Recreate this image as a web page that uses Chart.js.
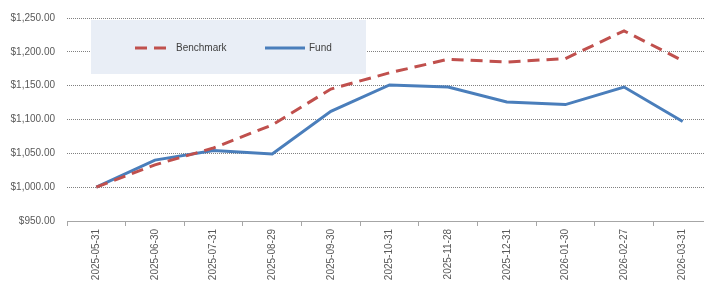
<!DOCTYPE html>
<html lang="en">
<head>
    <meta charset="UTF-8">
    <title>Fund vs Benchmark</title>
    <script src="https://cdn.jsdelivr.net/npm/chart.js"></script>
    <style>
        html, body { margin: 0; padding: 0; background: #fff; overflow: hidden; }
        .chart-wrapper { position: relative; width: 716px; height: 281px; }
    </style>
</head>
<body>
    <div class="chart-wrapper">
        <canvas id="growthChart"></canvas>
    </div>

    <script>
        const dates = ['2025-05-31', '2025-06-30', '2025-07-31', '2025-08-29', '2025-09-30', '2025-10-31',
                       '2025-11-28', '2025-12-31', '2026-01-30', '2026-02-27', '2026-03-31'];
        const benchmarkValues = [1000, 1033, 1058, 1092, 1145, 1169, 1189, 1185, 1190, 1231, 1187];
        const fundValues = [1000, 1040, 1054, 1049, 1112, 1151, 1148, 1126, 1122, 1148, 1097];

        const FONT = "'Liberation Sans', Arial, sans-serif";

        // legend drawn inside the plot on a shaded box
        const boxLegend = {
            id: 'boxLegend',
            beforeDatasetsDraw(chart) {
                const ctx = chart.ctx;
                ctx.save();
                ctx.fillStyle = '#e9eef6';
                ctx.fillRect(91, 20, 275, 54);

                const slots = [{ x: 135, w: 37 }, { x: 265, w: 40 }];
                chart.data.datasets.forEach((ds, i) => {
                    const s = slots[i];
                    ctx.strokeStyle = ds.borderColor;
                    ctx.lineWidth = ds.borderWidth;
                    ctx.setLineDash(ds.borderDash || []);
                    ctx.beginPath();
                    ctx.moveTo(s.x, 48);
                    ctx.lineTo(s.x + s.w, 48);
                    ctx.stroke();
                    ctx.setLineDash([]);
                    ctx.fillStyle = '#404040';
                    ctx.font = '10px ' + FONT;
                    ctx.textBaseline = 'middle';
                    ctx.fillText(ds.label, s.x + s.w + 4, 48);
                });
                ctx.restore();
            }
        };

        const ctx = document.getElementById('growthChart').getContext('2d');
        new Chart(ctx, {
            type: 'line',
            data: {
                labels: dates,
                datasets: [
                    {
                        label: 'Benchmark',
                        data: benchmarkValues,
                        borderColor: '#c0504d',
                        borderWidth: 3,
                        borderDash: [12, 7],
                        pointRadius: 0,
                        tension: 0,
                        fill: false
                    },
                    {
                        label: 'Fund',
                        data: fundValues,
                        borderColor: '#4a7ebb',
                        borderWidth: 3,
                        pointRadius: 0,
                        tension: 0,
                        fill: false
                    }
                ]
            },
            options: {
                responsive: true,
                maintainAspectRatio: false,
                animation: false,
                layout: { padding: { top: 15, right: 4, left: 0, bottom: 0 } },
                scales: {
                    x: {
                        offset: true,
                        grid: {
                            offset: true,
                            drawOnChartArea: false,
                            drawTicks: true,
                            tickLength: 5,
                            color: '#a6a6a6'
                        },
                        border: { display: true, color: '#a6a6a6', width: 1 },
                        ticks: {
                            minRotation: 90,
                            maxRotation: 90,
                            autoSkip: false,
                            padding: 3,
                            color: '#595959',
                            font: { family: FONT, size: 10 }
                        },
                        afterFit(scale) { scale.height = 60; }
                    },
                    y: {
                        min: 950,
                        max: 1250,
                        grid: {
                            drawTicks: false,
                            color: (c) => c.tick && c.tick.value === 950 ? 'rgba(0,0,0,0)' : '#808080',
                            lineWidth: 1
                        },
                        border: { display: false, dash: [1, 1] },
                        ticks: {
                            stepSize: 50,
                            padding: 12,
                            color: '#595959',
                            font: { family: FONT, size: 10 },
                            callback: (v) => '$' + v.toLocaleString('en-US', { minimumFractionDigits: 2, maximumFractionDigits: 2 })
                        },
                        afterFit(scale) { scale.width = 67; }
                    }
                },
                plugins: {
                    legend: { display: false },
                    tooltip: { enabled: false }
                }
            },
            plugins: [boxLegend]
        });
    </script>
</body>
</html>
